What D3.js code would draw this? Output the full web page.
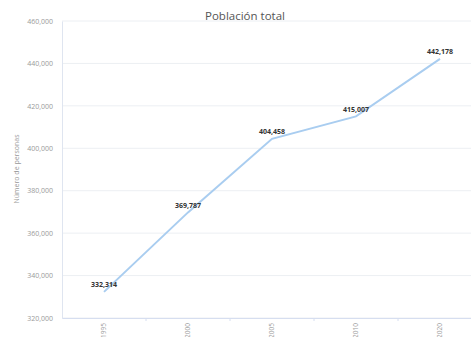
<!DOCTYPE html>
<html><head><meta charset="utf-8">
<script src="https://cdn.jsdelivr.net/npm/d3@7"></script>
<style>body{margin:0;background:#fff;overflow:hidden}svg{display:block}text{font-family:"Open Sans",sans-serif}</style>
</head><body>
<svg id="c" width="471" height="337"></svg>
<script>
const years = ["1995","2000","2005","2010","2020"];
const population = [332314, 369787, 404458, 415007, 442178];
const yTicks = [320000,340000,360000,380000,400000,420000,440000,460000];
const title = "Población total";
const yTitle = "Número de personas";

const svg = d3.select("#c");
const m = {l:62, t:21, b:318, r:482};
const x = d3.scaleBand().domain(years).range([m.l, m.r]);
const y = d3.scaleLinear().domain([320000,460000]).range([m.b, m.t]);
const fmt = d3.format(",");

// gridlines
svg.append("g").selectAll("line").data(yTicks).join("line")
  .attr("x1", m.l).attr("x2", 471)
  .attr("y1", d=>y(d)).attr("y2", d=>y(d))
  .attr("stroke", "#eceff3").attr("stroke-width", 1);

// y axis
const ya = svg.append("g").attr("transform",`translate(${m.l},0)`)
  .call(d3.axisLeft(y).tickValues(yTicks).tickFormat(fmt).tickSize(0).tickPadding(9));
ya.select(".domain").attr("stroke","#dfe5f0");
ya.selectAll("text").attr("fill","#9a9a9a").style("font-size","7px");

// x axis
const xa = svg.append("g").attr("transform",`translate(0,${m.b})`)
  .call(d3.axisBottom(x).tickSize(0).tickPadding(0));
xa.select(".domain").attr("stroke","#d6def0");
xa.selectAll(".tick line").remove();
xa.selectAll(".tick text")
  .attr("transform","translate(0,5) rotate(-90)")
  .attr("text-anchor","end").attr("dy","0.32em").attr("x",0).attr("y",0)
  .attr("fill","#9a9a9a").style("font-size","6.5px");
// boundary ticks
svg.append("g").selectAll("line").data(years.slice(1)).join("line")
  .attr("x1", d=>x(d)).attr("x2", d=>x(d))
  .attr("y1", m.b).attr("y2", m.b+3)
  .attr("stroke","#d6def0");

// line
const line = d3.line().x((d,i)=>x(years[i])+x.bandwidth()/2).y(d=>y(d));
svg.append("path").datum(population).attr("d", line)
  .attr("fill","none").attr("stroke","#a9cdf0").attr("stroke-width",2);

// labels
svg.append("g").selectAll("text").data(population).join("text")
  .attr("x",(d,i)=>x(years[i])+x.bandwidth()/2)
  .attr("y",d=>y(d)-4.5)
  .attr("text-anchor","middle")
  .attr("fill","#333").style("font-size","7px").style("font-weight","bold")
  .text(d=>fmt(d));

// title
svg.append("text").attr("x",245).attr("y",20).attr("text-anchor","middle")
  .attr("fill","#555").style("font-size","11.5px").text(title);

// y title
svg.append("text").attr("transform","translate(19,169) rotate(-90)")
  .attr("text-anchor","middle").attr("fill","#999").style("font-size","7px").text(yTitle);
</script>
</body></html>
